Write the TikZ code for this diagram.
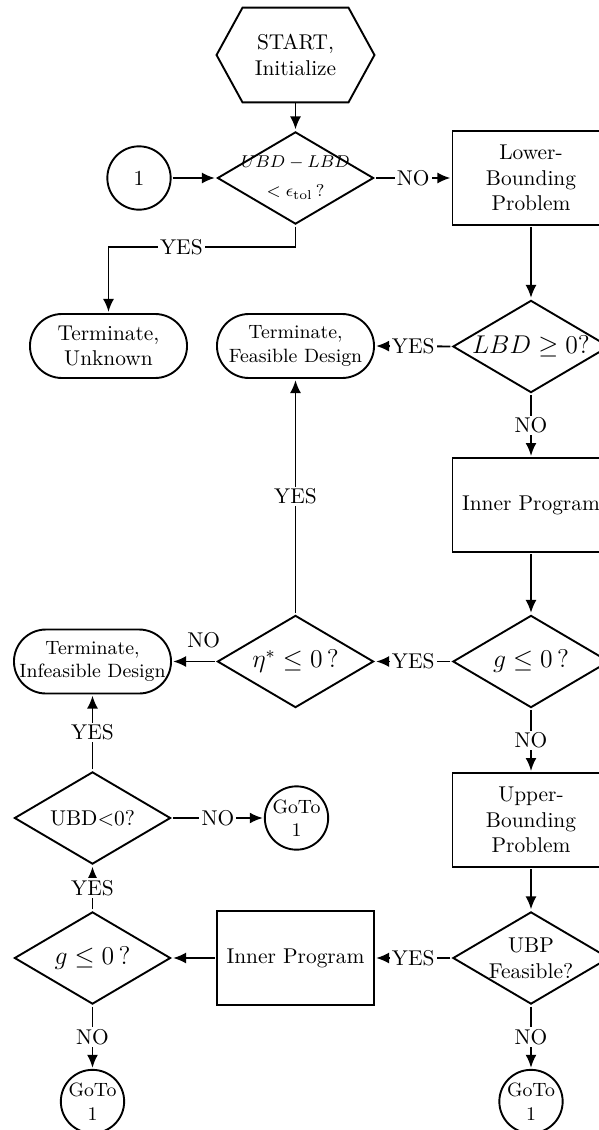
\documentclass[tikz,border=0pt]{standalone}
\usetikzlibrary{shapes.geometric,shapes.misc,arrows.meta}
\tikzset{
  every node/.append style={scale=2.14},
  flow/.style={line width=1.9pt},
  arr/.style={flow,-{Latex[length=13pt,width=11pt]}},
  procbox/.style={draw, flow, rectangle, minimum width=73.4pt, minimum height=43.9pt, inner sep=0pt, align=center},
  decision/.style={draw, flow, diamond, minimum width=73.4pt, minimum height=43.5pt, inner sep=0pt},
  terminal/.style={draw, flow, rounded rectangle, minimum width=73.4pt, minimum height=29.9pt, inner sep=0pt},
  connector/.style={draw, flow, circle, minimum size=29.6pt, inner sep=0pt},
  inside/.style={inner sep=0pt, align=center},
  lbl/.style={fill=white, inner sep=1pt},
}
\begin{document}
\begin{tikzpicture}[x=1pt,y=-1pt]
\useasboundingbox (0,0) rectangle (598,1130);

% start hexagon
\node[minimum width=73.4pt, minimum height=43.9pt, inner sep=0pt, align=center] (start) at (295.5,55) {START,\\Initialize};
\draw[flow, line join=miter] (start.west) -- ([xshift=26pt]start.north west) -- ([xshift=-26pt]start.north east)
  -- (start.east) -- ([xshift=-26pt]start.south east) -- ([xshift=26pt]start.south west) -- cycle;

% first row
\node[decision] (gap) at (295.5,178) {};
\node[inside, font=\footnotesize] (gapt) at (gap) {$UBD-LBD$\\[4pt]$<\epsilon_{\mathrm{tol}}\,?$};
\node[connector] (one) at (139,178) {};
\node[inside] (onet) at (one) {1};
\node[procbox] (lbp) at (531,178) {Lower-\\Bounding\\Problem};

% second row
\node[terminal] (tu) at (108.5,346) {};
\node[inside] (tut) at (tu) {Terminate,\\Unknown};
\node[terminal] (tf) at (295.5,346) {};
\node[inside, font=\small] (tft) at (tf) {Terminate,\\Feasible Design};
\node[decision] (lbd) at (531,346.5) {};
\node[inside, font=\large] (lbdt) at (lbd) {$LBD\geq 0?$};

\node[procbox] (ipa) at (531,505) {Inner Program};

% third row
\node[decision] (ga) at (531,661.5) {};
\node[inside, font=\large] (gat) at (ga) {$g\leq 0\,?$};
\node[decision] (eta) at (295.5,661.5) {};
\node[inside, font=\large] (etat) at (eta) {$\eta^{*}\leq 0\,?$};
\node[terminal] (ti) at (92.5,661.5) {};
\node[inside, font=\small] (tit) at (ti) {Terminate,\\Infeasible Design};

% fourth row
\node[procbox] (ubp) at (531,820) {Upper-\\Bounding\\Problem};
\node[decision] (ubd) at (92.5,818) {};
\node[inside] (ubdt) at (ubd) {UBD$<$0?};
\node[connector] (gta) at (296.5,818) {};
\node[inside, font=\small] (gtat) at (gta) {GoTo\\1};

% fifth row
\node[decision] (feas) at (531,958) {};
\node[inside] (feast) at (feas) {UBP\\Feasible?};
\node[procbox] (ipb) at (295.5,958) {Inner Program};
\node[decision] (gb) at (92.5,958) {};
\node[inside, font=\large] (gbt) at (gb) {$g\leq 0\,?$};

% jump connectors at the bottom
\node[connector] (gtb) at (92.5,1101.5) {};
\node[inside, font=\small] (gtbt) at (gtb) {GoTo\\1};
\node[connector] (gtc) at (531,1101.5) {};
\node[inside, font=\small] (gtct) at (gtc) {GoTo\\1};

% connectors
\coordinate (ybend) at (295.5,247);
\draw[arr] (start.south) -- (gap.north);
\draw[arr] (one.east) -- (gap.west);
\draw[arr] (gap.east) -- node[lbl]{NO} (lbp.west);
\draw[arr] (gap.south) -- (ybend) -- node[lbl, pos=0.61]{YES} (ybend -| tu.north) -- (tu.north);
\draw[arr] (lbp.south) -- (lbd.north);
\draw[arr] (lbd.west) -- node[lbl]{YES} (tf.east);
\draw[arr] (lbd.south) -- node[lbl]{NO} (ipa.north);
\draw[arr] (ipa.south) -- (ga.north);
\draw[arr] (ga.west) -- node[lbl]{YES} (eta.east);
\draw[arr] (ga.south) -- node[lbl]{NO} (ubp.north);
\draw[arr] (eta.north) -- node[lbl]{YES} (tf.south);
\draw[arr] (eta.west) -- node[above, pos=0.27, inner sep=5.4pt]{NO} (ti.east);
\draw[arr] (ubd.north) -- node[lbl]{YES} (ti.south);
\draw[arr] (ubd.east) -- node[lbl]{NO} (gta.west);
\draw[arr] (ubp.south) -- (feas.north);
\draw[arr] (feas.west) -- node[lbl]{YES} (ipb.east);
\draw[arr] (feas.south) -- node[lbl]{NO} (gtc.north);
\draw[arr] (ipb.west) -- (gb.east);
\draw[arr] (gb.north) -- node[lbl]{YES} (ubd.south);
\draw[arr] (gb.south) -- node[lbl]{NO} (gtb.north);
\end{tikzpicture}
\end{document}
